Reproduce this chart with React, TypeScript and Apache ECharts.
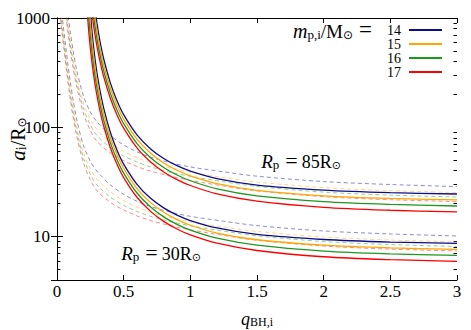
import React, { useEffect, useRef } from "react";
import * as echarts from "echarts";

// ---- data -----------------------------------------------------------------
// q grid for the solid curves and for the dashed curves
const qSolid = [0.22, 0.23, 0.24, 0.25, 0.26, 0.27, 0.28, 0.29, 0.3, 0.32, 0.35, 0.4, 0.45, 0.5, 0.6, 0.7, 0.8, 0.9, 1.0, 1.2, 1.5, 2.0, 2.5, 3.0];
const qDashed = [0.02, 0.03, 0.04, 0.05, 0.06, 0.07, 0.08, 0.09, 0.1, 0.12, 0.15, 0.2, 0.25, 0.3, 0.4, 0.5, 0.6, 0.7, 0.85, 1.0, 1.25, 1.5, 2.0, 2.5, 3.0];

const massLabels = ["14", "15", "16", "17"];
const massColors = ["#0c0c8e", "#ffa500", "#1c981c", "#ff0000"];

// solid curves, R_p = 85 Rsun
const solid85M14 = [null, null, null, null, null, null, 1345, 1080.5, 888.8, 635.3, 423.8, 255.0, 174.8, 130.4, 85.2, 63.7, 51.8, 44.5, 39.7, 33.9, 29.6, 26.6, 25.2, 24.5];
const solid85M15 = [null, null, null, null, null, 1411.6, 1118.6, 911.2, 758.1, 551.3, 374.2, 228.9, 158.4, 118.7, 77.84, 58.16, 47.16, 40.4, 35.92, 30.49, 26.47, 23.6, 22.3, 21.63];
const solid85M16 = [null, null, null, null, 1462, 1146, 924.6, 764.3, 643.3, 476.3, 329.1, 204.9, 143.1, 107.8, 70.92, 52.99, 42.83, 36.57, 32.39, 27.35, 23.59, 20.85, 19.66, 19.03];
const solid85M17 = [null, null, null, 1499.7, 1166.8, 936.2, 769.3, 644.5, 548.6, 413.3, 290.6, 184.0, 129.7, 98.2, 64.8, 48.4, 39.0, 33.2, 29.3, 24.6, 21.1, 18.5, 17.4, 16.8];

// solid curves, R_p = 30 Rsun
const solid30M14 = [null, null, 1749.7, 1148.8, 814.7, 610.0, 474.8, 381.4, 313.7, 224.3, 149.6, 90.0, 61.7, 46.03, 30.07, 22.48, 18.28, 15.71, 14.01, 11.97, 10.45, 9.39, 8.9, 8.65];
const solid30M15 = [null, null, 1298, 889.9, 650.5, 498.3, 394.8, 321.6, 267.6, 194.6, 132.1, 80.8, 55.91, 41.9, 27.48, 20.53, 16.65, 14.26, 12.68, 10.76, 9.34, 8.33, 7.87, 7.64];
const solid30M16 = [null, 1438, 954.5, 683.4, 516.1, 404.5, 326.4, 269.8, 227.1, 168.1, 116.2, 72.33, 50.51, 38.05, 25.03, 18.7, 15.12, 12.91, 11.43, 9.65, 8.33, 7.36, 6.94, 6.72];
const solid30M17 = [1521.7, 998.6, 707.6, 529.4, 411.9, 330.5, 271.5, 227.5, 193.6, 145.9, 102.6, 64.95, 45.78, 34.66, 22.87, 17.08, 13.77, 11.72, 10.34, 8.68, 7.45, 6.53, 6.14, 5.93];

// dashed curves, R_p = 85 Rsun
const dashed85M14 = [null, null, null, null, null, 1390, 1114, 901.6, 738.0, 510.5, 323.6, 190.5, 138.0, 112.2, 84.14, 68.87, 59.57, 53.33, 47.42, 43.35, 39.08, 35.65, 31.84, 29.92, 28.64];
const dashed85M15 = [null, null, null, null, 1515.6, 1198.4, 959.8, 775.9, 634.5, 440.6, 281.8, 164.4, 118.0, 95.06, 72.61, 60.37, 52.65, 47.45, 42.31, 38.71, 34.67, 31.51, 28.04, 26.33, 25.25];
const dashed85M16 = [null, null, null, null, 1360.8, 1072.3, 858.2, 693.3, 566.5, 394.5, 254.1, 147.2, 104.95, 83.95, 65.01, 54.69, 48.0, 43.46, 38.83, 35.55, 31.7, 28.72, 25.49, 23.92, 22.97];
const dashed85M17 = [null, null, null, null, 1221.8, 959.4, 767.4, 619.4, 505.8, 353.2, 229.1, 131.8, 93.33, 74.13, 58.21, 49.55, 43.75, 39.81, 35.65, 32.66, 28.97, 26.18, 23.17, 21.73, 20.89];

// dashed curves, R_p = 30 Rsun
const dashed30M14 = [null, 1281.7, 999.5, 783.1, 617.7, 490.7, 393.4, 318.3, 260.5, 180.2, 114.2, 67.27, 48.73, 39.61, 29.7, 24.31, 21.03, 18.83, 16.74, 15.3, 13.8, 12.58, 11.24, 10.56, 10.11];
const dashed30M15 = [1428.9, 1106.1, 862.6, 677.0, 535.1, 423.1, 338.8, 273.9, 224.0, 155.5, 99.51, 58.05, 41.67, 33.56, 25.63, 21.31, 18.59, 16.75, 14.93, 13.66, 12.24, 11.12, 9.899, 9.294, 8.913];
const dashed30M16 = [1277.6, 990.4, 772.4, 607.0, 480.4, 378.5, 303.0, 244.7, 200.0, 139.3, 89.7, 51.98, 37.05, 29.63, 22.95, 19.31, 16.94, 15.34, 13.71, 12.55, 11.19, 10.14, 8.999, 8.443, 8.108];
const dashed30M17 = [1142.4, 886.8, 691.5, 544.3, 431.3, 338.7, 270.9, 218.7, 178.6, 124.7, 80.88, 46.54, 32.95, 26.17, 20.55, 17.49, 15.45, 14.05, 12.58, 11.53, 10.23, 9.243, 8.181, 7.671, 7.376];

// axis ranges and tick labels
const xTicks = [0, 0.5, 1, 1.5, 2, 2.5, 3];
const yMin = 4;
const yMax = 1000;
const yMajorLabels = [10, 100, 1000];
const yMinorTicks = [5, 6, 7, 8, 9, 20, 30, 40, 50, 60, 70, 80, 90, 200, 300, 400, 500, 600, 700, 800, 900];

// ---- helpers --------------------------------------------------------------
const SERIF = "Liberation Serif";
const SYMBOL = "DejaVu Sans";

const toPairs = (qs: number[], vs: (number | null)[]) =>
  qs.flatMap((q, i) => (vs[i] == null ? [] : [[q, vs[i] as number]]));

const solidSets = [
  [solid85M14, solid85M15, solid85M16, solid85M17],
  [solid30M14, solid30M15, solid30M16, solid30M17],
];
const dashedSets = [
  [dashed85M14, dashed85M15, dashed85M16, dashed85M17],
  [dashed30M14, dashed30M15, dashed30M16, dashed30M17],
];

// rich-text styles for math-like labels: italic symbol, roman text, subscripts
const makeRich = (size: number): any => ({
  i: { fontFamily: SERIF, fontStyle: "italic", fontSize: size + 1, lineHeight: size + 2, verticalAlign: "bottom", fill: "#000" },
  r: { fontFamily: SERIF, fontSize: size, lineHeight: size + 2, verticalAlign: "bottom", fill: "#000" },
  e: { fontFamily: SERIF, fontSize: size + 4, lineHeight: size + 2, verticalAlign: "bottom", fill: "#000", padding: [0, 4, 0, 6] },
  s: { fontFamily: SERIF, fontSize: Math.round(size * 0.7), lineHeight: Math.round(size * 0.6), verticalAlign: "bottom", fill: "#000" },
  o: { fontFamily: SYMBOL, fontSize: Math.round(size * 0.62), lineHeight: Math.round(size * 0.55), verticalAlign: "bottom", fill: "#000" },
});

function buildOption(): any {
  const series: any[] = [];

  dashedSets.forEach((set) =>
    set.forEach((vals, k) => {
      series.push({
        type: "line",
        name: "dashed-" + massLabels[k],
        data: toPairs(qDashed, vals),
        symbol: "none",
        smooth: 0.3,
        clip: true,
        silent: true,
        lineStyle: { color: massColors[k], width: 0.8, type: [4, 3], opacity: 0.6 },
        z: 2,
      });
    })
  );

  solidSets.forEach((set) =>
    set.forEach((vals, k) => {
      series.push({
        type: "line",
        name: massLabels[k],
        data: toPairs(qSolid, vals),
        symbol: "none",
        smooth: 0.3,
        clip: true,
        silent: true,
        itemStyle: { color: massColors[k] },
        lineStyle: { color: massColors[k], width: 1.3 },
        z: 3,
      });
    })
  );

  const logMin = Math.log10(yMin);
  const minorLog = yMinorTicks.map((v) => Math.log10(v));
  const axisBlack = { show: true, lineStyle: { color: "#000", width: 1 } };

  const minorAxis = (position: string) => ({
    type: "value",
    position,
    min: logMin,
    max: Math.log10(yMax),
    axisLine: { show: false },
    axisLabel: { show: false },
    splitLine: { show: false },
    axisTick: { show: true, inside: true, length: 3.5, customValues: minorLog, lineStyle: { color: "#000", width: 1 } },
  });

  return {
    animation: false,
    backgroundColor: "#fff",
    grid: { left: 57, top: 18, width: 400, height: 262, containLabel: false },
    legend: {
      data: massLabels,
      orient: "vertical",
      right: 28,
      top: 23,
      padding: 0,
      align: "right",
      itemWidth: 33,
      itemHeight: 14,
      itemGap: 0,
      selectedMode: false,
      itemStyle: { opacity: 0 },
      textStyle: { fontFamily: SERIF, fontSize: 14, color: "#000", padding: [0, 3, 0, 0] },
    },
    xAxis: [
      {
        type: "value",
        position: "bottom",
        min: xTicks[0],
        max: xTicks[xTicks.length - 1],
        interval: 0.5,
        axisLine: axisBlack,
        axisTick: { show: true, inside: true, length: 5, lineStyle: { color: "#000" } },
        axisLabel: { fontFamily: SERIF, fontSize: 17, color: "#000", margin: 3 },
        splitLine: { show: false },
      },
      {
        type: "value",
        position: "top",
        min: xTicks[0],
        max: xTicks[xTicks.length - 1],
        interval: 0.5,
        axisLine: axisBlack,
        axisTick: { show: true, inside: true, length: 5, lineStyle: { color: "#000" } },
        axisLabel: { show: false },
        splitLine: { show: false },
      },
    ],
    yAxis: [
      {
        type: "log",
        logBase: 10,
        position: "left",
        min: yMin,
        max: yMax,
        axisLine: axisBlack,
        axisTick: { show: true, inside: true, length: 6, lineStyle: { color: "#000" } },
        axisLabel: {
          fontFamily: SERIF,
          fontSize: 17,
          color: "#000",
          margin: 7,
          formatter: (v: number) => (yMajorLabels.some((m) => Math.abs(m - v) < 1e-6 * m) ? String(Math.round(v)) : ""),
        },
        splitLine: { show: false },
      },
      {
        type: "log",
        logBase: 10,
        position: "right",
        min: yMin,
        max: yMax,
        axisLine: axisBlack,
        axisTick: { show: true, inside: true, length: 6, lineStyle: { color: "#000" } },
        axisLabel: { show: false },
        splitLine: { show: false },
      },
      minorAxis("left"),
      minorAxis("right"),
    ],
    graphic: [
      {
        type: "text",
        x: 257,
        y: 318,
        style: { text: "{i|q}{s|BH,i}", align: "center", verticalAlign: "middle", rich: makeRich(17) },
      },
      {
        type: "text",
        x: 17,
        y: 139,
        rotation: Math.PI / 2,
        style: { text: "{i|a}{s|i}{r|/R}{o|⊙}", align: "center", verticalAlign: "middle", rich: makeRich(20) },
      },
      {
        type: "text",
        x: 376,
        y: 30,
        style: { text: "{i|m}{s|p,i}{r|/M}{o|⊙}{e|=}", align: "right", verticalAlign: "middle", rich: makeRich(19) },
      },
      {
        type: "text",
        x: 301,
        y: 161,
        style: { text: "{i|R}{s|p}{e|=}{r|85R}{o|⊙}", align: "center", verticalAlign: "middle", rich: makeRich(18) },
      },
      {
        type: "text",
        x: 161,
        y: 253,
        style: { text: "{i|R}{s|p}{e|=}{r|30R}{o|⊙}", align: "center", verticalAlign: "middle", rich: makeRich(18) },
      },
    ],
    series,
  };
}

export default function App() {
  const ref = useRef<HTMLDivElement>(null);

  useEffect(() => {
    if (!ref.current) return;
    const chart = echarts.init(ref.current, undefined, { renderer: "svg" });
    chart.setOption(buildOption());
    return () => chart.dispose();
  }, []);

  return (
    <div
      ref={ref}
      style={{ position: "fixed", left: 0, top: 0, width: 471, height: 330, background: "#fff" }}
    />
  );
}
